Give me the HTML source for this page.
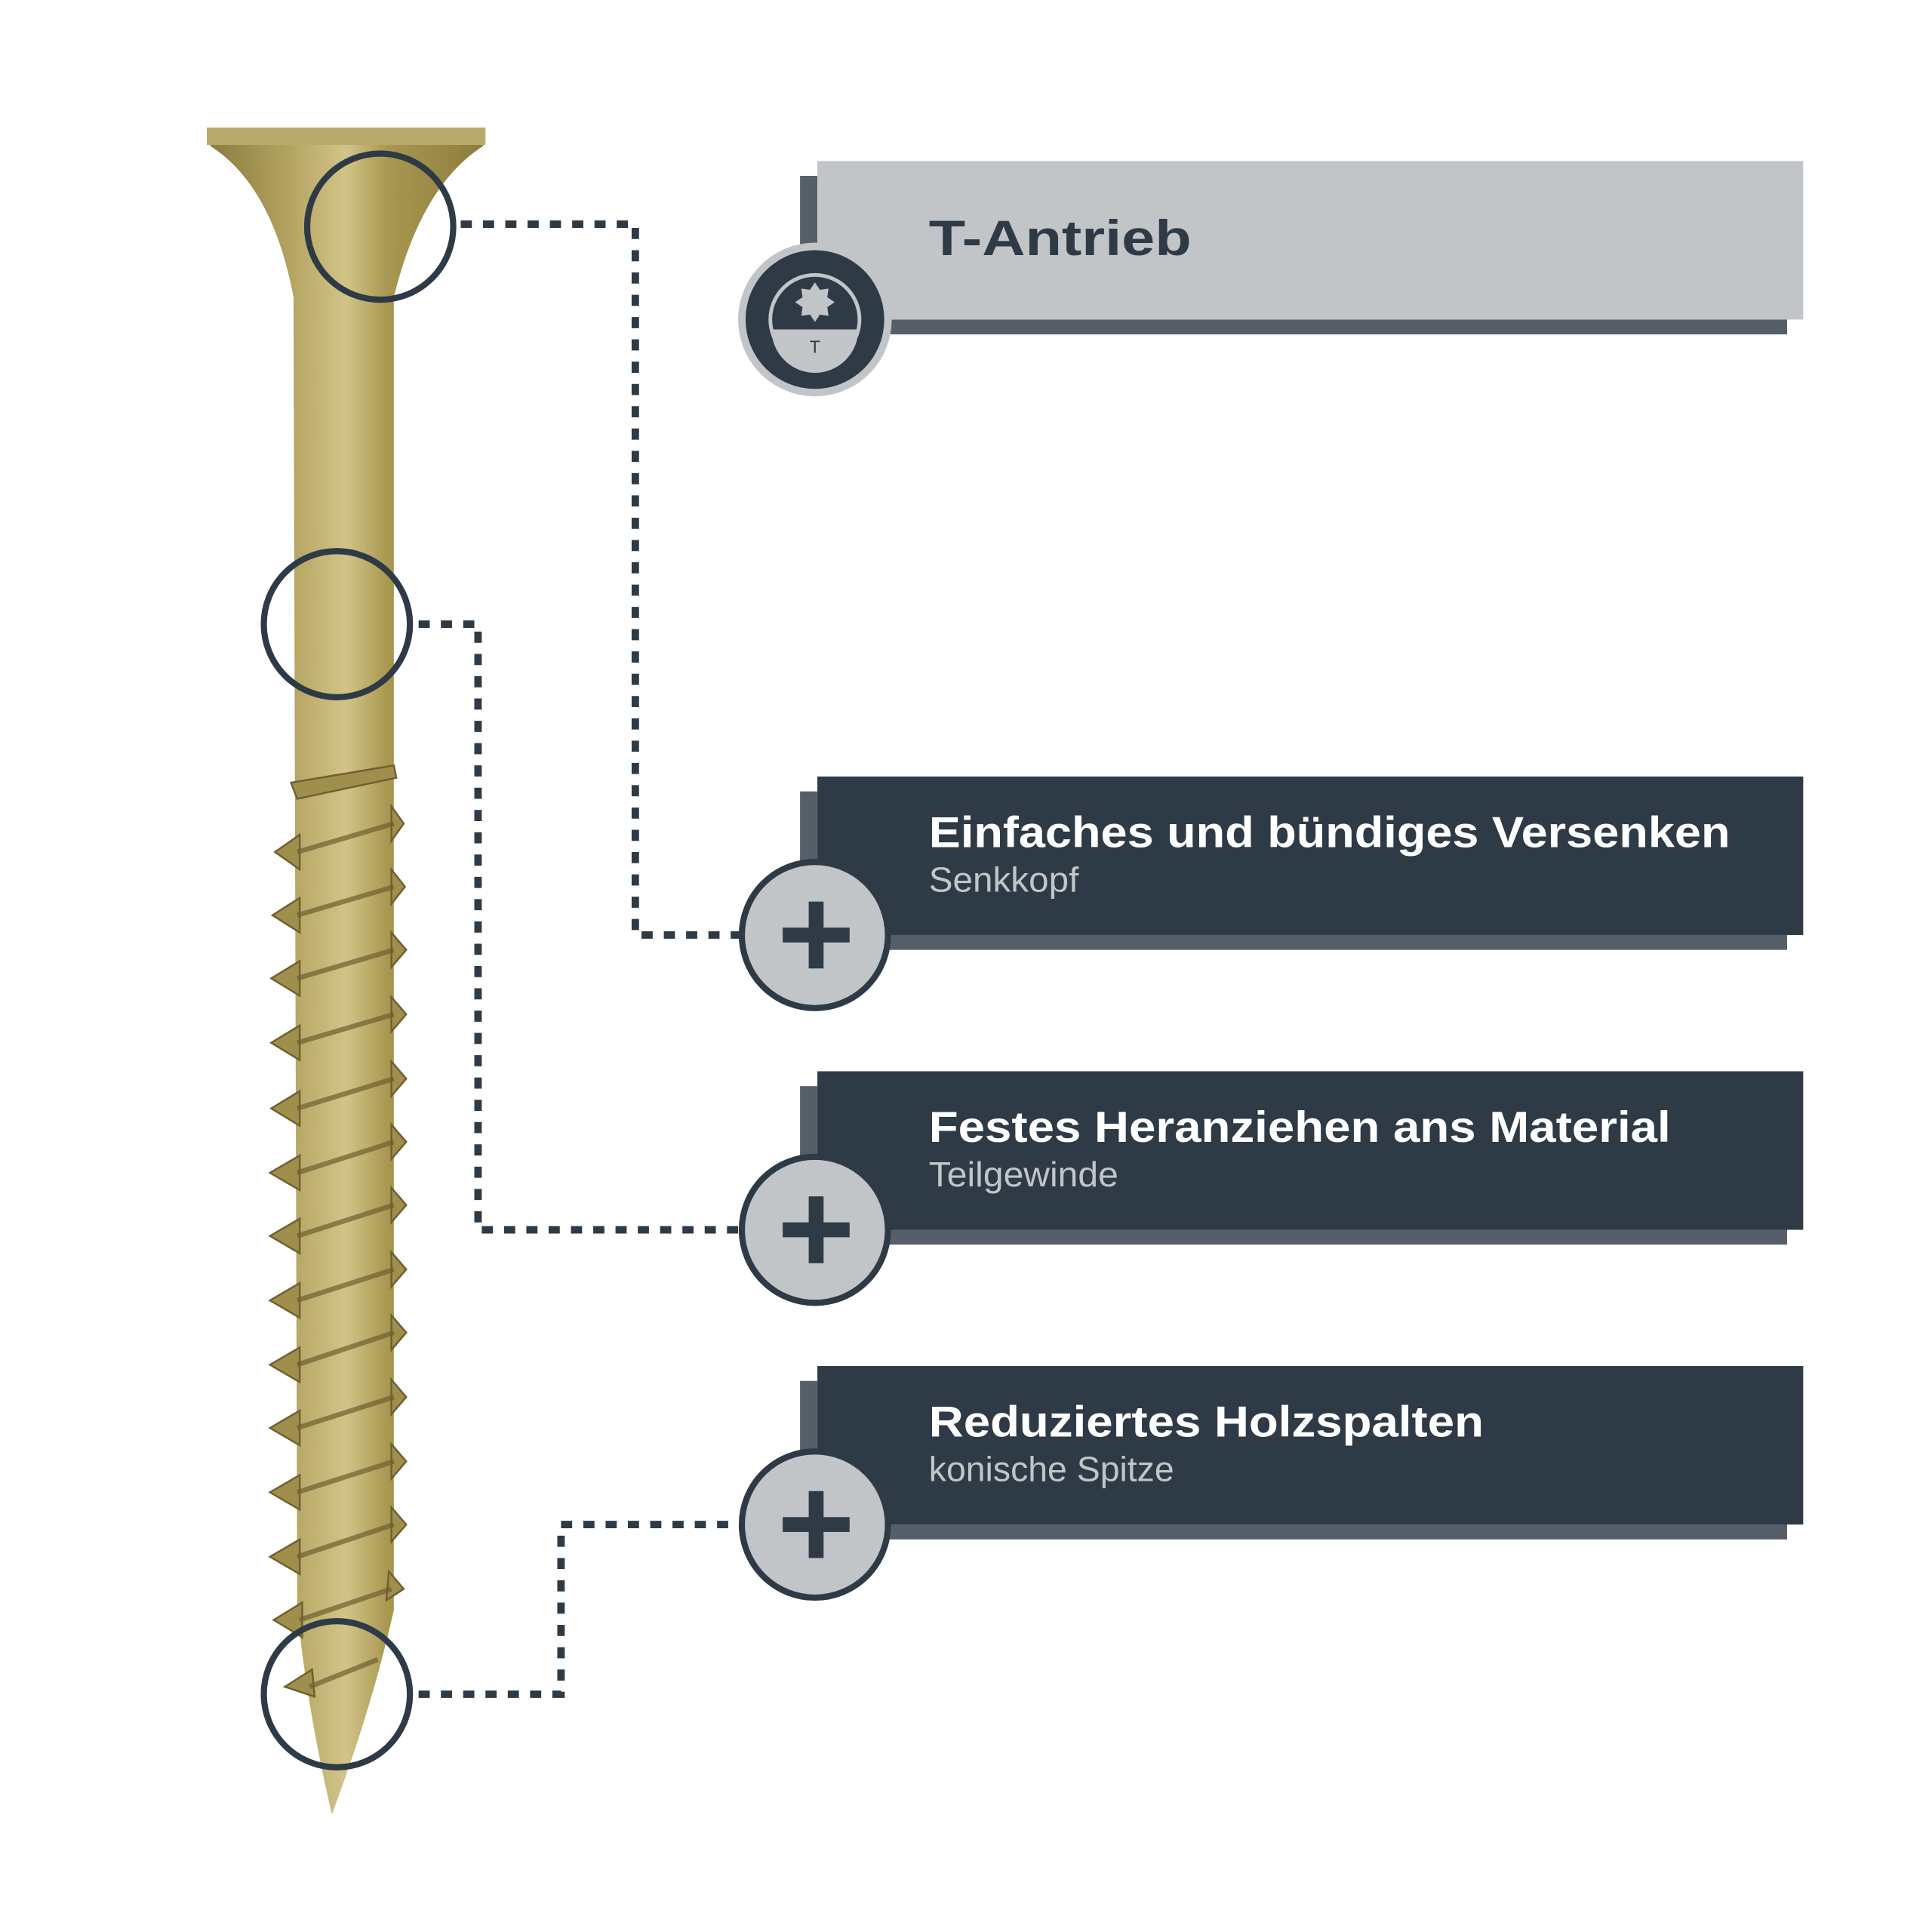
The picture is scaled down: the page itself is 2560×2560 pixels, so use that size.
<!DOCTYPE html>
<html><head><meta charset="utf-8"><style>
html,body{margin:0;padding:0;background:#fff;}
svg{display:block;}
</style></head><body>
<svg width="2560" height="2560" viewBox="0 0 1560 1560" xmlns="http://www.w3.org/2000/svg">
<defs>
<linearGradient id="g" x1="0" x2="1" y1="0" y2="0">
<stop offset="0" stop-color="#8a7a3c"/>
<stop offset="0.3" stop-color="#b4a462"/>
<stop offset="0.5" stop-color="#d2c488"/>
<stop offset="0.65" stop-color="#a8974f"/>
<stop offset="1" stop-color="#8c7c3e"/>
</linearGradient>
</defs>
<rect width="1560" height="1560" fill="#fff"/>
<g fill="url(#g)">
<path d="M167 104 L392 104 L390 118 Q340 150 318 240 L318 1300 Q300 1380 268 1465 Q248 1380 240 1300 L237 240 Q220 150 170 118 Z"/>
</g>
<rect x="167" y="103" width="225" height="14" fill="#b8aa6a"/>
<g fill="#a08f4c" stroke="#6e6030" stroke-width="1.5">
<path d="M235 632 L318 618 L320 628 L240 645 Z"/>
<path d="M316 651 L326 665 L316 679 Z"/>
<path d="M316 702 L327 716 L316 730 Z"/>
<path d="M316 753 L328 767 L316 781 Z"/>
<path d="M316 805 L328 819 L316 833 Z"/>
<path d="M316 857 L328 871 L316 885 Z"/>
<path d="M316 908 L328 922 L316 936 Z"/>
<path d="M316 959 L328 973 L316 987 Z"/>
<path d="M316 1011 L328 1025 L316 1039 Z"/>
<path d="M316 1062 L328 1076 L316 1090 Z"/>
<path d="M316 1114 L328 1128 L316 1142 Z"/>
<path d="M316 1166 L328 1180 L316 1194 Z"/>
<path d="M316 1217 L328 1231 L316 1245 Z"/>
<path d="M314 1269 L326 1283 L312 1292 Z"/>
<path d="M242 674 L222 688 L242 702 Z"/>
<path d="M242 725 L220 739 L242 753 Z"/>
<path d="M242 776 L219 790 L242 804 Z"/>
<path d="M242 828 L219 842 L242 856 Z"/>
<path d="M242 881 L219 895 L242 909 Z"/>
<path d="M242 933 L218 947 L242 961 Z"/>
<path d="M242 984 L218 998 L242 1012 Z"/>
<path d="M242 1036 L218 1050 L242 1064 Z"/>
<path d="M242 1088 L218 1102 L242 1116 Z"/>
<path d="M242 1139 L218 1153 L242 1167 Z"/>
<path d="M242 1191 L218 1205 L242 1219 Z"/>
<path d="M242 1243 L218 1257 L242 1271 Z"/>
<path d="M244 1294 L221 1308 L244 1322 Z"/>
<path d="M252 1348 L230 1362 L254 1370 Z"/>
</g>
<g stroke="#6e6030" stroke-width="4" opacity="0.7">
<line x1="240" y1="688" x2="318" y2="665"/><line x1="240" y1="739" x2="318" y2="716"/>
<line x1="240" y1="790" x2="318" y2="767"/><line x1="240" y1="842" x2="318" y2="819"/>
<line x1="240" y1="895" x2="318" y2="871"/><line x1="240" y1="947" x2="318" y2="922"/>
<line x1="240" y1="998" x2="318" y2="973"/><line x1="240" y1="1050" x2="318" y2="1025"/>
<line x1="240" y1="1102" x2="318" y2="1076"/><line x1="240" y1="1153" x2="318" y2="1128"/>
<line x1="240" y1="1205" x2="318" y2="1180"/><line x1="240" y1="1257" x2="318" y2="1231"/>
<line x1="242" y1="1308" x2="316" y2="1283"/><line x1="250" y1="1362" x2="305" y2="1340"/>
</g>
<g fill="none" stroke="#2e3b46" stroke-width="5">
<circle cx="307" cy="183" r="59"/>
<circle cx="272" cy="504" r="59"/>
<circle cx="272" cy="1368" r="59"/>
</g>
<g fill="none" stroke="#2e3b46" stroke-width="6" stroke-dasharray="9 9">
<path d="M372 181 H513 V755 H597"/>
<path d="M338 504 H386 V993 H597"/>
<path d="M338 1368 H453 V1231 H597"/>
</g>
<rect x="646" y="142" width="14" height="128" fill="#565f69"/>
<rect x="660" y="258" width="783" height="12" fill="#565f69"/>
<rect x="660" y="130" width="796" height="128" fill="#c2c5c8"/>
<text x="750" y="206" font-family="Liberation Sans, sans-serif" font-weight="bold" font-size="40" fill="#2e3b46" textLength="212" lengthAdjust="spacingAndGlyphs">T-Antrieb</text>
<circle cx="658" cy="258" r="62" fill="#c2c5c8"/>
<circle cx="658" cy="258" r="56" fill="#2e3b46"/>
<circle cx="658" cy="258" r="36" fill="none" stroke="#c2c5c8" stroke-width="3"/>
<path d="M623 266 H693 A35 35 0 0 1 623 266 Z" fill="#c2c5c8"/>
<path d="M658 228 l4 6 7 -1 -1 7 6 4 -6 4 1 7 -7 -1 -4 6 -4 -6 -7 1 1 -7 -6 -4 6 -4 -1 -7 7 1 z" fill="#c2c5c8"/>
<text x="658" y="285" text-anchor="middle" font-family="Liberation Sans, sans-serif" font-size="14" fill="#2e3b46">T</text>
<g font-family="Liberation Sans, sans-serif">
<rect x="646" y="639" width="14" height="128" fill="#565f69"/>
<rect x="660" y="755" width="783" height="12" fill="#565f69"/>
<rect x="660" y="627" width="796" height="128" fill="#2e3b46"/>
<text x="750" y="684" font-weight="bold" font-size="35" fill="#fff" textLength="647" lengthAdjust="spacingAndGlyphs">Einfaches und bündiges Versenken</text>
<text x="750" y="720" font-size="28" fill="#c2c5c8" textLength="121" lengthAdjust="spacingAndGlyphs">Senkkopf</text>

<rect x="646" y="877" width="14" height="128" fill="#565f69"/>
<rect x="660" y="993" width="783" height="12" fill="#565f69"/>
<rect x="660" y="865" width="796" height="128" fill="#2e3b46"/>
<text x="750" y="922" font-weight="bold" font-size="35" fill="#fff" textLength="599" lengthAdjust="spacingAndGlyphs">Festes Heranziehen ans Material</text>
<text x="750" y="958" font-size="28" fill="#c2c5c8" textLength="153" lengthAdjust="spacingAndGlyphs">Teilgewinde</text>

<rect x="646" y="1115" width="14" height="128" fill="#565f69"/>
<rect x="660" y="1231" width="783" height="12" fill="#565f69"/>
<rect x="660" y="1103" width="796" height="128" fill="#2e3b46"/>
<text x="750" y="1160" font-weight="bold" font-size="35" fill="#fff" textLength="448" lengthAdjust="spacingAndGlyphs">Reduziertes Holzspalten</text>
<text x="750" y="1196" font-size="28" fill="#c2c5c8" textLength="198" lengthAdjust="spacingAndGlyphs">konische Spitze</text>
</g>
<g>
<circle cx="658" cy="755" r="59" fill="#c2c5c8" stroke="#2e3b46" stroke-width="5"/>
<rect x="632" y="749" width="54" height="12" fill="#2e3b46"/><rect x="653" y="728" width="12" height="54" fill="#2e3b46"/>
<circle cx="658" cy="993" r="59" fill="#c2c5c8" stroke="#2e3b46" stroke-width="5"/>
<rect x="632" y="987" width="54" height="12" fill="#2e3b46"/><rect x="653" y="966" width="12" height="54" fill="#2e3b46"/>
<circle cx="658" cy="1231" r="59" fill="#c2c5c8" stroke="#2e3b46" stroke-width="5"/>
<rect x="632" y="1225" width="54" height="12" fill="#2e3b46"/><rect x="653" y="1204" width="12" height="54" fill="#2e3b46"/>
</g>
</svg>
</body></html>
